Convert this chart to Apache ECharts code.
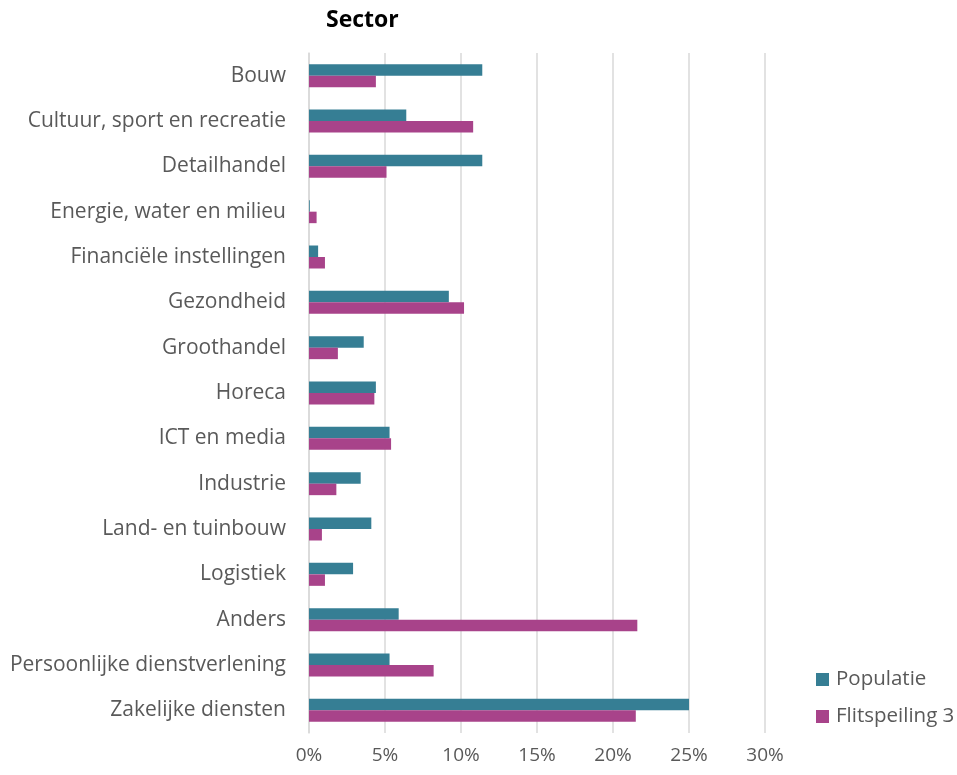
<!DOCTYPE html>
<html>
<head>
<meta charset="utf-8">
<script src="https://cdn.jsdelivr.net/npm/echarts@6/dist/echarts.min.js"></script>
<style>
html, body { margin: 0; padding: 0; background: #fff; }
#chart { width: 957px; height: 775px; }
</style>
</head>
<body>
<div id="chart"></div>
<script>
var categories = ['Bouw', 'Cultuur, sport en recreatie', 'Detailhandel', 'Energie, water en milieu',
    'Financiële instellingen', 'Gezondheid', 'Groothandel', 'Horeca', 'ICT en media', 'Industrie',
    'Land- en tuinbouw', 'Logistiek', 'Anders', 'Persoonlijke dienstverlening', 'Zakelijke diensten'];
var populatie = [11.4, 6.4, 11.4, 0.05, 0.6, 9.2, 3.6, 4.4, 5.3, 3.4, 4.1, 2.9, 5.9, 5.3, 25.0];
var flitspeiling = [4.4, 10.8, 5.1, 0.5, 1.05, 10.2, 1.9, 4.3, 5.4, 1.8, 0.85, 1.05, 21.6, 8.2, 21.5];
var seriesNames = ['Populatie', 'Flitspeiling 3'];
var xTicks = [0, 5, 10, 15, 20, 25, 30];

function sectorChart(){
    var chart = echarts.init(document.getElementById('chart'));
    var font = '"Open Sans", "DejaVu Sans", sans-serif';
    var option = {
        color: ['#367e94', '#a8438a'],
        textStyle: { fontFamily: font },
        title: {
            text: 'Sector',
            left: 321,
            top: 4,
            textStyle: { fontSize: 23, fontWeight: 'bold', color: '#000', fontFamily: font }
        },
        legend: {
            orient: 'vertical',
            left: 811,
            top: 664,
            itemWidth: 13,
            itemHeight: 13,
            itemGap: 16,
            icon: 'rect',
            textStyle: { fontSize: 20.5, color: '#595959', padding: [0, 0, 0, 2] },
            data: seriesNames
        },
        grid: {
            left: 309,
            right: 192,
            top: 53,
            bottom: 42,
            containLabel: false
        },
        xAxis: {
            type: 'value',
            min: xTicks[0],
            max: xTicks[xTicks.length - 1],
            interval: 5,
            axisLine: { show: false },
            axisTick: { show: false },
            splitLine: { show: true, lineStyle: { color: '#d9d9d9', width: 1.5 } },
            axisLabel: {
                fontSize: 19,
                color: '#595959',
                margin: 13,
                formatter: function (v) { return v + '%'; }
            }
        },
        yAxis: {
            type: 'category',
            data: categories,
            inverse: true,
            axisTick: { show: false },
            axisLine: { show: true, lineStyle: { color: '#d9d9d9', width: 1.5 } },
            axisLabel: { fontSize: 21, color: '#595959', margin: 23 }
        },
        series: [
            {
                name: seriesNames[0],
                type: 'bar',
                data: populatie,
                barWidth: 11.5,
                barGap: '0%',
                animation: false
            },
            {
                name: seriesNames[1],
                type: 'bar',
                data: flitspeiling,
                barWidth: 11.5,
                barGap: '0%',
                animation: false
            }
        ]
    };
    chart.setOption(option);
}
sectorChart();
</script>
</body>
</html>
